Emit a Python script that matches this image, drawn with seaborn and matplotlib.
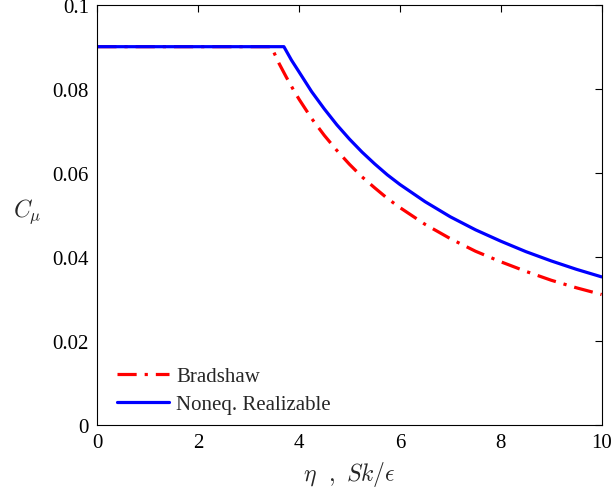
import matplotlib
matplotlib.use("Agg")
import matplotlib.pyplot as plt
import seaborn as sns
import pandas as pd

eta_bradshaw = [0.0, 3.45, 3.6, 3.75, 3.9, 4.0, 4.25, 4.5, 4.75, 5.0, 5.25, 5.5, 5.75, 6.0, 6.5, 7.0, 7.5, 8.0, 8.5, 9.0, 9.5, 10.0]
cmu_bradshaw = [0.09, 0.09, 0.0861, 0.0827, 0.0795, 0.0775, 0.0729, 0.0689, 0.0653, 0.062, 0.0590,
                0.0564, 0.0539, 0.0517, 0.0477, 0.0443, 0.0413, 0.0388, 0.0365, 0.0344, 0.0326, 0.031]
eta_noneq = [0.0, 3.7, 3.85, 4.0, 4.25, 4.5, 4.75, 5.0, 5.25, 5.5, 5.75, 6.0, 6.5, 7.0, 7.5, 8.0, 8.5, 9.0, 9.5, 10.0]
cmu_noneq = [0.09, 0.09, 0.0868, 0.084, 0.0793, 0.0752, 0.0714, 0.068, 0.0649, 0.0621, 0.0595, 0.0572,
             0.0531, 0.0495, 0.0464, 0.0437, 0.0412, 0.039, 0.037, 0.0352]
labels = ["Bradshaw", "Noneq. Realizable"]
xticks = [0, 2, 4, 6, 8, 10]
yticks = [0, 0.02, 0.04, 0.06, 0.08, 0.1]
ytick_labels = ["0", "0.02", "0.04", "0.06", "0.08", "0.1"]

sns.set_style("white")
plt.rcParams["font.family"] = ["Liberation Serif", "DejaVu Serif"]
plt.rcParams["mathtext.fontset"] = "cm"

df = pd.concat([
    pd.DataFrame({"eta": eta_bradshaw, "cmu": cmu_bradshaw, "model": labels[0]}),
    pd.DataFrame({"eta": eta_noneq, "cmu": cmu_noneq, "model": labels[1]}),
])

fig = plt.figure(figsize=(6.12, 4.89), dpi=100)
ax = fig.add_axes([0.159, 0.1294, 0.824, 0.859])

sns.lineplot(data=df, x="eta", y="cmu", hue="model", style="model",
             palette={labels[0]: "#ff0000", labels[1]: "#0000ff"},
             dashes={labels[0]: (6, 2.5, 1, 2.5), labels[1]: ""},
             linewidth=2.3, sort=False, estimator=None, ax=ax)

ax.set_xlim(0, 10)
ax.set_ylim(0, 0.1)
ax.set_xticks(xticks)
ax.set_xticklabels([str(t) for t in xticks])
ax.set_yticks(yticks)
ax.set_yticklabels(ytick_labels)
ax.tick_params(direction="in", length=5, width=0.8, top=True, right=True,
               labelsize=15, colors="black", pad=6)
for s in ax.spines.values():
    s.set_visible(True)
    s.set_color("black")
    s.set_linewidth(0.8)

ax.set_xlabel(r"$\eta\ \ ,\ Sk/\epsilon$", fontsize=17, labelpad=5)
ax.set_ylabel(r"$C_\mu$", fontsize=17, rotation=0, labelpad=20, va="center")
ax.yaxis.set_label_coords(-0.138, 0.51)

leg = ax.legend(loc="lower left", frameon=False, fontsize=15, handlelength=2.5,
                handletextpad=0.35, labelspacing=0.4, borderpad=0, borderaxespad=0,
                bbox_to_anchor=(0.039, 0.025))
for line in leg.get_lines():
    line.set_linewidth(2.3)

fig.savefig("out.png", dpi=100)
